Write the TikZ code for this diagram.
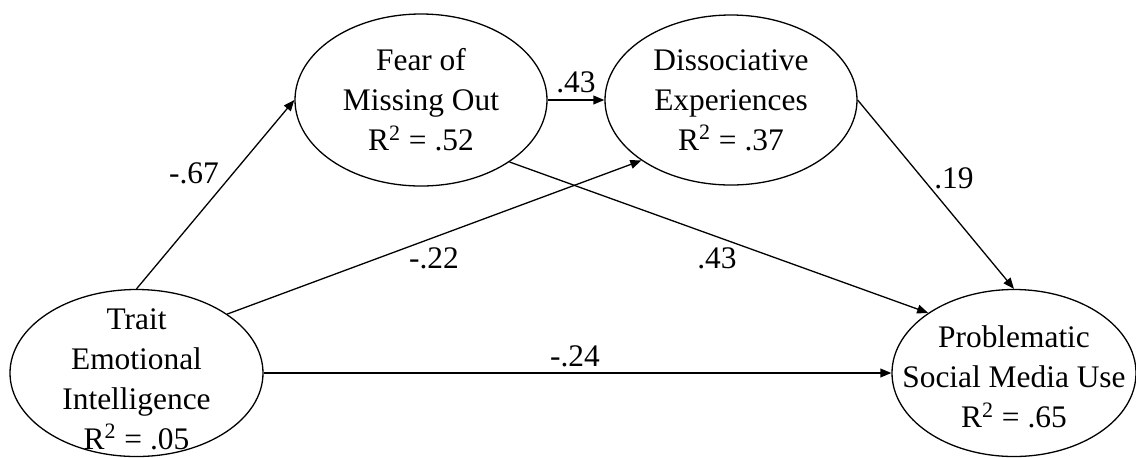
\documentclass[tikz,border=0pt]{standalone}
\usepackage{fontspec}
\setmainfont{Liberation Serif}
\usetikzlibrary{arrows.meta,shapes.geometric}
\tikzset{every node/.style={font=\fontsize{15.7}{20}\selectfont}}
\colorlet{linecol}{black}
\colorlet{textcol}{black}

\begin{document}
\begin{tikzpicture}[x=0.5pt, y=-0.5pt, >={Triangle[length=5.5pt, width=4.4pt]}]

  \useasboundingbox (0,0) rectangle (1136,457);
  \tikzset{
    construct/.style={ellipse, draw=linecol, line width=0.65pt, inner sep=0pt},
    effect/.style={->, line width=0.65pt, linecol},
    coef/.style={text=textcol, inner sep=0pt},
    caption/.style={align=center, text=textcol, inner sep=0pt}
  }

  % Constructs.
  \node[construct, minimum width=126.5pt, minimum height=83.5pt] (tei)  at (136.5,373) {};
  \node[construct, minimum width=126pt,   minimum height=86pt]   (fomo) at (421,100)   {};
  \node[construct, minimum width=126pt,   minimum height=85pt]   (diss) at (731,100)   {};
  \node[construct, minimum width=122pt,   minimum height=83.5pt] (psmu) at (1014,373)  {};

  % Construct names.
  \node[caption] (teitext)  at ([yshift=-3pt]tei.center) {Trait\\Emotional\\Intelligence\\R\textsuperscript{2} = .05};
  \node[caption] (fomotext) at (fomo) {Fear of\\Missing Out\\R\textsuperscript{2} = .52};
  \node[caption] (disstext) at (diss) {Dissociative\\Experiences\\R\textsuperscript{2} = .37};
  \node[caption] (psmutext) at ([yshift=-2pt]psmu.center) {Problematic\\Social Media Use\\R\textsuperscript{2} = .65};

  % Paths.
  \draw[effect] (tei.north) -- (fomo.west);
  \draw[effect] (tei.33)    -- (diss.214);
  \draw[effect] (fomo.east) -- (diss.west);
  \draw[effect] (fomo.-35)  -- (psmu.145);
  \draw[effect] (diss.east) -- (psmu.north);
  \draw[effect] (tei.east)  -- (psmu.west);

  % Path coefficients.
  \node[coef] (c1) at (194,173) {-.67};
  \node[coef] (c2) at (434,258) {-.22};
  \node[coef] (c3) at (576,82)  {.43};
  \node[coef] (c4) at (717,258) {.43};
  \node[coef] (c5) at (954,178) {.19};
  \node[coef] (c6) at (575,356) {-.24};

\end{tikzpicture}
\end{document}
